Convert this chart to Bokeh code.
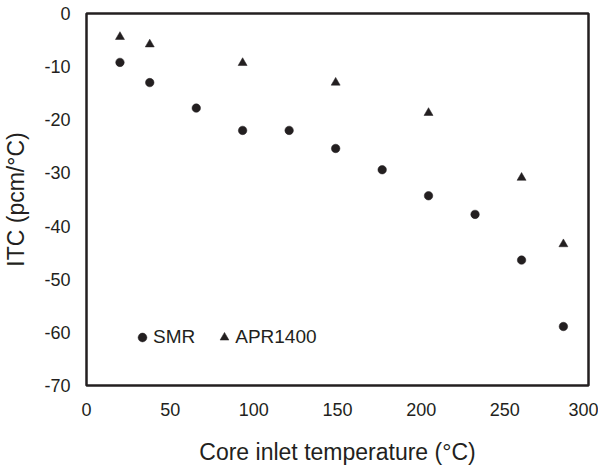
from bokeh.plotting import figure
from bokeh.models import Legend, LegendItem, Range1d, FixedTicker
from bokeh.embed import file_html
from bokeh.resources import INLINE

# Data
temp_smr = [20, 37.8, 65.6, 93.3, 121.1, 148.9, 176.7, 204.4, 232.2, 260, 285]
itc_smr = [-9.2, -13.0, -17.8, -22.0, -22.0, -25.4, -29.4, -34.3, -37.8, -46.4, -58.9]
temp_apr = [20, 37.8, 93.3, 148.9, 204.4, 260, 285]
itc_apr = [-4.4, -5.8, -9.3, -13.0, -18.7, -30.9, -43.4]

x_ticks = [0, 50, 100, 150, 200, 250, 300]
x_tick_labels = ["0", "50", "100", "150", "200", "250", "300"]
y_ticks = [-70, -60, -50, -40, -30, -20, -10, 0]
y_tick_labels = ["-70", "-60", "-50", "-40", "-30", "-20", "-10", "0"]

FONT = "Liberation Sans"
INK = "#231f20"

p = figure(width=598, height=467, output_backend="svg", toolbar_location=None,
           x_range=Range1d(0, 300), y_range=Range1d(-70, 0),
           min_border_left=77, min_border_top=13, min_border_right=10, min_border_bottom=79)

p.background_fill_color = "white"
p.border_fill_color = "white"
p.outline_line_color = INK
p.outline_line_width = 2.5
p.xgrid.visible = False
p.ygrid.visible = False

p.xaxis.ticker = FixedTicker(ticks=x_ticks)
p.yaxis.ticker = FixedTicker(ticks=y_ticks)
p.xaxis.major_label_overrides = dict(zip(x_ticks, x_tick_labels))
p.yaxis.major_label_overrides = dict(zip(y_ticks, y_tick_labels))

for ax in (p.xaxis[0], p.yaxis[0]):
    ax.axis_line_color = None
    ax.major_tick_line_color = None
    ax.minor_tick_line_color = None
    ax.major_tick_out = 0
    ax.major_tick_in = 0
    ax.major_label_text_font = FONT
    ax.major_label_text_font_size = "18px"
    ax.major_label_text_color = INK
    ax.axis_label_text_font = FONT
    ax.axis_label_text_font_size = "23px"
    ax.axis_label_text_font_style = "normal"
    ax.axis_label_text_color = INK

p.xaxis.axis_label = "Core inlet temperature (°C)"
p.yaxis.axis_label = "ITC (pcm/°C)"
p.xaxis.major_label_standoff = 17
p.xaxis.axis_label_standoff = 20
p.yaxis.major_label_standoff = 16
p.yaxis.axis_label_standoff = 12

r_smr = p.scatter(temp_smr, itc_smr, marker="circle", size=8.5,
                  fill_color=INK, line_color=INK, line_width=0.5)
r_apr = p.scatter(temp_apr, itc_apr, marker="triangle", size=9,
                  fill_color=INK, line_color=INK, line_width=0.5)

legend = Legend(items=[LegendItem(label="SMR", renderers=[r_smr]),
                       LegendItem(label="APR1400", renderers=[r_apr])],
                orientation="horizontal", location=(45, 37),
                padding=0, margin=0, spacing=18,
                glyph_width=22, glyph_height=22, label_standoff=-2,
                border_line_color=None, background_fill_alpha=0,
                label_text_font=FONT, label_text_font_size="19px",
                label_text_color=INK)
p.add_layout(legend)

open("out.html", "w").write(file_html(p, INLINE))
